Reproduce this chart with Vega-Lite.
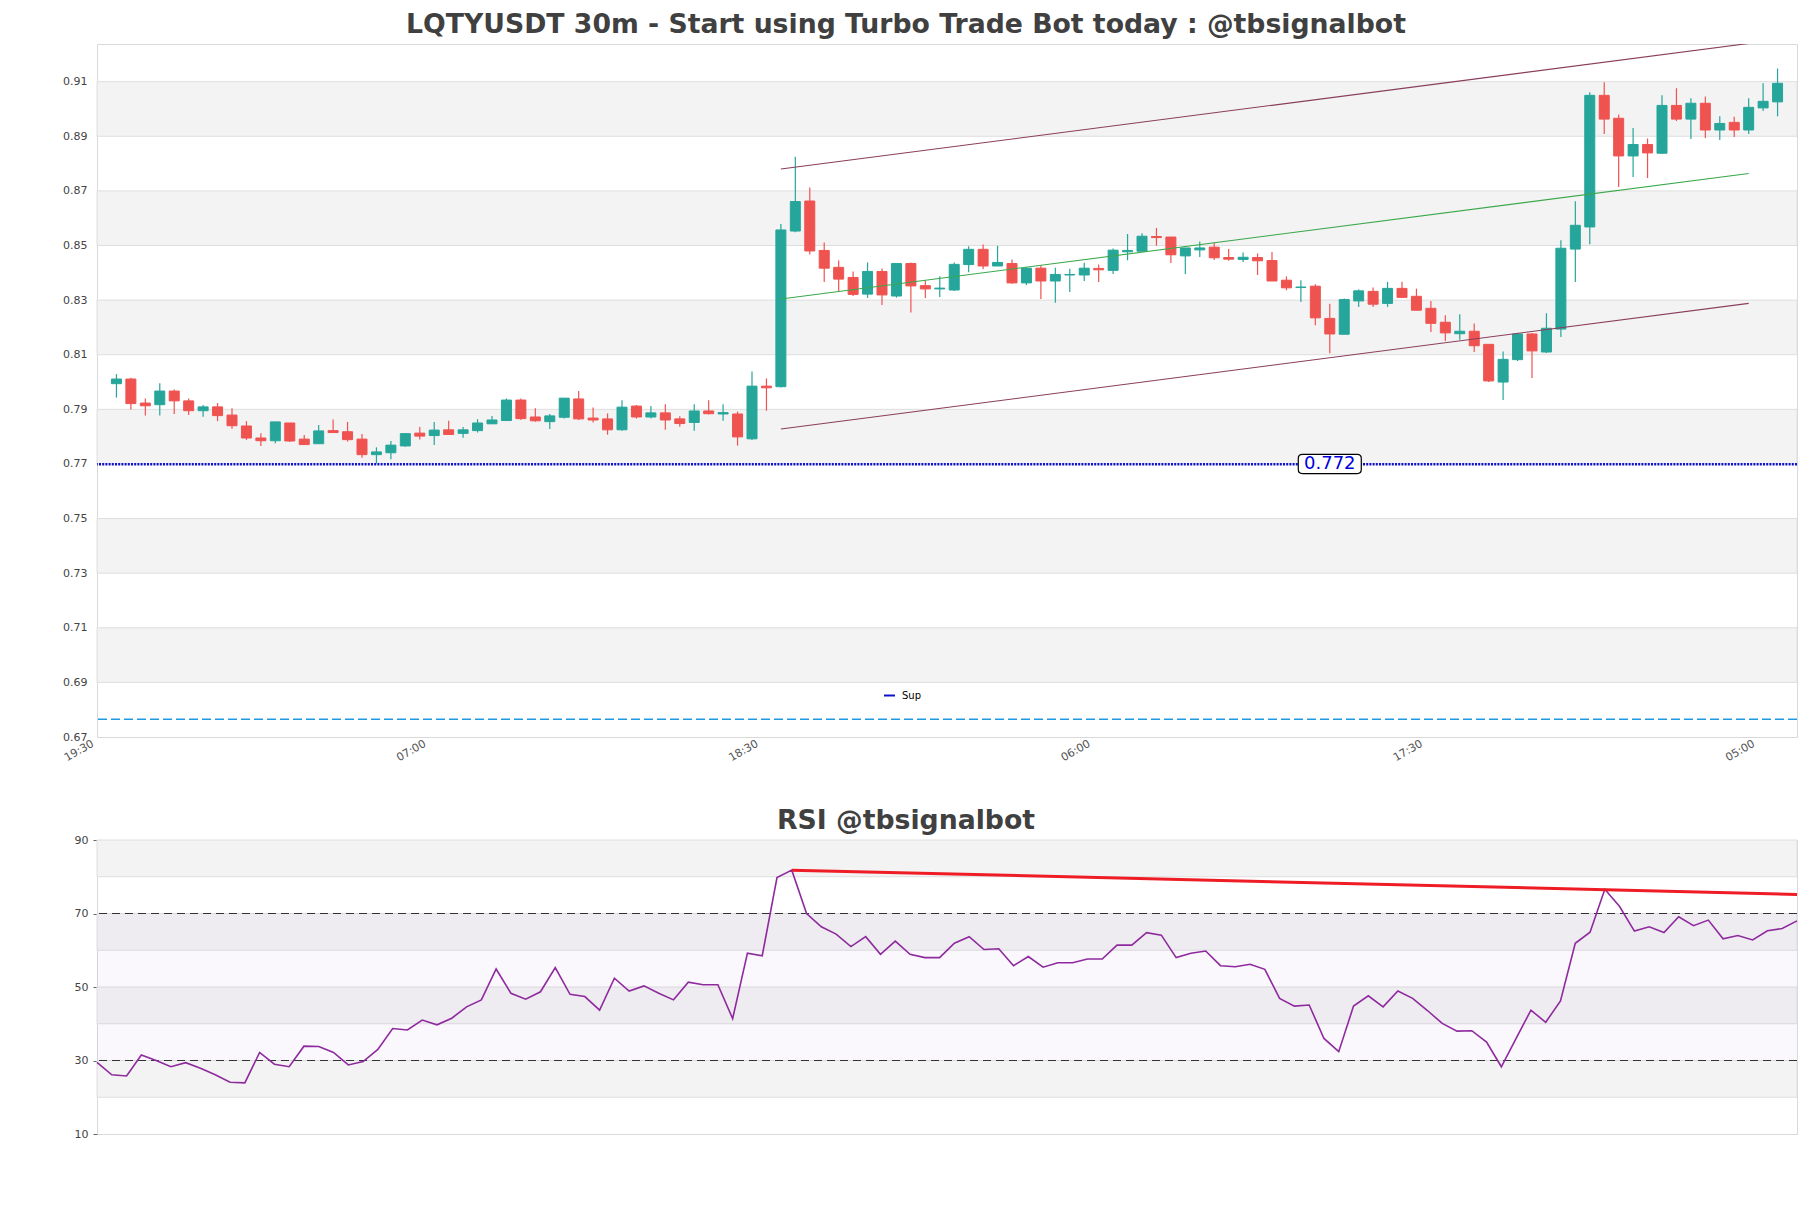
{
  "$schema": "https://vega.github.io/schema/vega-lite/v6.json",
  "background": "white",
  "padding": {"left": 61, "top": 11, "right": 10, "bottom": 10},
  "bounds": "flush",
  "spacing": 103,
  "config": {
    "font": "DejaVu Sans",
    "view": {"stroke": "#d9d9d9", "strokeWidth": 1},
    "axis": {"labelFont": "DejaVu Sans", "labelFontSize": 11, "labelColor": "#444444", "grid": false, "domain": false, "title": null, "labelOverlap": false, "labelBound": false},
    "legend": {"labelFont": "DejaVu Sans"}
  },
  "datasets": {
    "pbands": [
      {"lo": 0.69, "hi": 0.71}, {"lo": 0.73, "hi": 0.75}, {"lo": 0.77, "hi": 0.79},
      {"lo": 0.81, "hi": 0.83}, {"lo": 0.85, "hi": 0.87}, {"lo": 0.89, "hi": 0.91}
    ],
    "rbands": [
      {"lo": 20, "hi": 30}, {"lo": 40, "hi": 50}, {"lo": 60, "hi": 70}, {"lo": 80, "hi": 90}
    ],
    "rlevels": [
      {"lvl": 30}, {"lvl": 70}
    ],
    "channel": [
      {"t": "2024-01-02T19:00:00", "upper": 0.8780, "mid": 0.8304, "lower": 0.7828},
      {"t": "2024-01-04T04:30:00", "upper": 0.9240, "mid": 0.8764, "lower": 0.8288}
    ],
    "rsitrend": [
      {"t": "2024-01-02T19:30:00", "v": 81.8},
      {"t": "2024-01-04T05:30:00", "v": 75.2}
    ],
    "candles": [
      {"t":"2024-01-01T20:00:00","o":0.7994,"h":0.8029,"l":0.7943,"c":0.8011,"rsi":29.5},
      {"t":"2024-01-01T20:30:00","o":0.8011,"h":0.8016,"l":0.7899,"c":0.7921,"rsi":26.1},
      {"t":"2024-01-01T21:00:00","o":0.7923,"h":0.7940,"l":0.7877,"c":0.7913,"rsi":25.8},
      {"t":"2024-01-01T21:30:00","o":0.7917,"h":0.7996,"l":0.7877,"c":0.7967,"rsi":31.5},
      {"t":"2024-01-01T22:00:00","o":0.7967,"h":0.7973,"l":0.7883,"c":0.7931,"rsi":30.0},
      {"t":"2024-01-01T22:30:00","o":0.7931,"h":0.7940,"l":0.7879,"c":0.7895,"rsi":28.3},
      {"t":"2024-01-01T23:00:00","o":0.7895,"h":0.7916,"l":0.7873,"c":0.7909,"rsi":29.4},
      {"t":"2024-01-01T23:30:00","o":0.7909,"h":0.7923,"l":0.7857,"c":0.7877,"rsi":27.9},
      {"t":"2024-01-02T00:00:00","o":0.7879,"h":0.7904,"l":0.7829,"c":0.7840,"rsi":26.1},
      {"t":"2024-01-02T00:30:00","o":0.7839,"h":0.7857,"l":0.7788,"c":0.7795,"rsi":24.1},
      {"t":"2024-01-02T01:00:00","o":0.7795,"h":0.7812,"l":0.7766,"c":0.7785,"rsi":23.9},
      {"t":"2024-01-02T01:30:00","o":0.7785,"h":0.7854,"l":0.7776,"c":0.7854,"rsi":32.2},
      {"t":"2024-01-02T02:00:00","o":0.7850,"h":0.7850,"l":0.7780,"c":0.7784,"rsi":29.0},
      {"t":"2024-01-02T02:30:00","o":0.7791,"h":0.7806,"l":0.7771,"c":0.7771,"rsi":28.3},
      {"t":"2024-01-02T03:00:00","o":0.7774,"h":0.7843,"l":0.7774,"c":0.7821,"rsi":33.9},
      {"t":"2024-01-02T03:30:00","o":0.7822,"h":0.7863,"l":0.7815,"c":0.7815,"rsi":33.8},
      {"t":"2024-01-02T04:00:00","o":0.7818,"h":0.7854,"l":0.7782,"c":0.7789,"rsi":32.2},
      {"t":"2024-01-02T04:30:00","o":0.7791,"h":0.7810,"l":0.7723,"c":0.7734,"rsi":28.8},
      {"t":"2024-01-02T05:00:00","o":0.7734,"h":0.7761,"l":0.7702,"c":0.7744,"rsi":29.7},
      {"t":"2024-01-02T05:30:00","o":0.7741,"h":0.7784,"l":0.7717,"c":0.7769,"rsi":33.0},
      {"t":"2024-01-02T06:00:00","o":0.7766,"h":0.7812,"l":0.7763,"c":0.7811,"rsi":38.7},
      {"t":"2024-01-02T06:30:00","o":0.7813,"h":0.7835,"l":0.7790,"c":0.7802,"rsi":38.3},
      {"t":"2024-01-02T07:00:00","o":0.7804,"h":0.7854,"l":0.7769,"c":0.7824,"rsi":41.0},
      {"t":"2024-01-02T07:30:00","o":0.7825,"h":0.7858,"l":0.7808,"c":0.7808,"rsi":39.7},
      {"t":"2024-01-02T08:00:00","o":0.7812,"h":0.7835,"l":0.7796,"c":0.7825,"rsi":41.5},
      {"t":"2024-01-02T08:30:00","o":0.7822,"h":0.7864,"l":0.7815,"c":0.7850,"rsi":44.6},
      {"t":"2024-01-02T09:00:00","o":0.7847,"h":0.7876,"l":0.7847,"c":0.7861,"rsi":46.5},
      {"t":"2024-01-02T09:30:00","o":0.7859,"h":0.7940,"l":0.7859,"c":0.7934,"rsi":54.9},
      {"t":"2024-01-02T10:00:00","o":0.7934,"h":0.7940,"l":0.7861,"c":0.7866,"rsi":48.3},
      {"t":"2024-01-02T10:30:00","o":0.7872,"h":0.7904,"l":0.7855,"c":0.7858,"rsi":46.7},
      {"t":"2024-01-02T11:00:00","o":0.7855,"h":0.7883,"l":0.7828,"c":0.7876,"rsi":48.7},
      {"t":"2024-01-02T11:30:00","o":0.7871,"h":0.7941,"l":0.7866,"c":0.7941,"rsi":55.3},
      {"t":"2024-01-02T12:00:00","o":0.7938,"h":0.7967,"l":0.7861,"c":0.7865,"rsi":48.0},
      {"t":"2024-01-02T12:30:00","o":0.7868,"h":0.7907,"l":0.7852,"c":0.7861,"rsi":47.4},
      {"t":"2024-01-02T13:00:00","o":0.7865,"h":0.7885,"l":0.7807,"c":0.7825,"rsi":43.7},
      {"t":"2024-01-02T13:30:00","o":0.7825,"h":0.7933,"l":0.7822,"c":0.7908,"rsi":52.4},
      {"t":"2024-01-02T14:00:00","o":0.7912,"h":0.7916,"l":0.7866,"c":0.7872,"rsi":48.9},
      {"t":"2024-01-02T14:30:00","o":0.7872,"h":0.7912,"l":0.7866,"c":0.7887,"rsi":50.3},
      {"t":"2024-01-02T15:00:00","o":0.7887,"h":0.7919,"l":0.7825,"c":0.7861,"rsi":48.3},
      {"t":"2024-01-02T15:30:00","o":0.7865,"h":0.7875,"l":0.7836,"c":0.7848,"rsi":46.5},
      {"t":"2024-01-02T16:00:00","o":0.7852,"h":0.7919,"l":0.7822,"c":0.7894,"rsi":51.3},
      {"t":"2024-01-02T16:30:00","o":0.7894,"h":0.7933,"l":0.7881,"c":0.7884,"rsi":50.6},
      {"t":"2024-01-02T17:00:00","o":0.7883,"h":0.7919,"l":0.7858,"c":0.7888,"rsi":50.6},
      {"t":"2024-01-02T17:30:00","o":0.7883,"h":0.7892,"l":0.7767,"c":0.7799,"rsi":41.4},
      {"t":"2024-01-02T18:00:00","o":0.7792,"h":0.8039,"l":0.7788,"c":0.7985,"rsi":59.2},
      {"t":"2024-01-02T18:30:00","o":0.7985,"h":0.8013,"l":0.7895,"c":0.7979,"rsi":58.5},
      {"t":"2024-01-02T19:00:00","o":0.7983,"h":0.8579,"l":0.7980,"c":0.8557,"rsi":79.8},
      {"t":"2024-01-02T19:30:00","o":0.8553,"h":0.8825,"l":0.8549,"c":0.8661,"rsi":81.8},
      {"t":"2024-01-02T20:00:00","o":0.8663,"h":0.8712,"l":0.8467,"c":0.8480,"rsi":70.0},
      {"t":"2024-01-02T20:30:00","o":0.8482,"h":0.8511,"l":0.8366,"c":0.8417,"rsi":66.4},
      {"t":"2024-01-02T21:00:00","o":0.8420,"h":0.8445,"l":0.8330,"c":0.8377,"rsi":64.4},
      {"t":"2024-01-02T21:30:00","o":0.8383,"h":0.8405,"l":0.8315,"c":0.8321,"rsi":61.0},
      {"t":"2024-01-02T22:00:00","o":0.8322,"h":0.8438,"l":0.8308,"c":0.8405,"rsi":63.7},
      {"t":"2024-01-02T22:30:00","o":0.8405,"h":0.8416,"l":0.8282,"c":0.8319,"rsi":58.9},
      {"t":"2024-01-02T23:00:00","o":0.8315,"h":0.8434,"l":0.8309,"c":0.8434,"rsi":62.5},
      {"t":"2024-01-02T23:30:00","o":0.8434,"h":0.8438,"l":0.8255,"c":0.8352,"rsi":58.9},
      {"t":"2024-01-03T00:00:00","o":0.8353,"h":0.8372,"l":0.8308,"c":0.8341,"rsi":58.0},
      {"t":"2024-01-03T00:30:00","o":0.8341,"h":0.8387,"l":0.8311,"c":0.8344,"rsi":58.0},
      {"t":"2024-01-03T01:00:00","o":0.8337,"h":0.8438,"l":0.8333,"c":0.8431,"rsi":61.9},
      {"t":"2024-01-03T01:30:00","o":0.8430,"h":0.8497,"l":0.8402,"c":0.8486,"rsi":63.7},
      {"t":"2024-01-03T02:00:00","o":0.8486,"h":0.8504,"l":0.8414,"c":0.8425,"rsi":60.2},
      {"t":"2024-01-03T02:30:00","o":0.8425,"h":0.8499,"l":0.8425,"c":0.8438,"rsi":60.4},
      {"t":"2024-01-03T03:00:00","o":0.8434,"h":0.8449,"l":0.8360,"c":0.8363,"rsi":55.8},
      {"t":"2024-01-03T03:30:00","o":0.8363,"h":0.8421,"l":0.8355,"c":0.8417,"rsi":58.3},
      {"t":"2024-01-03T04:00:00","o":0.8417,"h":0.8427,"l":0.8304,"c":0.8370,"rsi":55.4},
      {"t":"2024-01-03T04:30:00","o":0.8370,"h":0.8419,"l":0.8290,"c":0.8394,"rsi":56.6},
      {"t":"2024-01-03T05:00:00","o":0.8392,"h":0.8415,"l":0.8330,"c":0.8394,"rsi":56.6},
      {"t":"2024-01-03T05:30:00","o":0.8392,"h":0.8437,"l":0.8370,"c":0.8417,"rsi":57.6},
      {"t":"2024-01-03T06:00:00","o":0.8416,"h":0.8430,"l":0.8366,"c":0.8411,"rsi":57.6},
      {"t":"2024-01-03T06:30:00","o":0.8409,"h":0.8489,"l":0.8396,"c":0.8483,"rsi":61.4},
      {"t":"2024-01-03T07:00:00","o":0.8477,"h":0.8542,"l":0.8446,"c":0.8482,"rsi":61.4},
      {"t":"2024-01-03T07:30:00","o":0.8479,"h":0.8545,"l":0.8479,"c":0.8534,"rsi":64.8},
      {"t":"2024-01-03T08:00:00","o":0.8533,"h":0.8564,"l":0.8499,"c":0.8529,"rsi":64.1},
      {"t":"2024-01-03T08:30:00","o":0.8531,"h":0.8531,"l":0.8436,"c":0.8466,"rsi":58.0},
      {"t":"2024-01-03T09:00:00","o":0.8462,"h":0.8491,"l":0.8396,"c":0.8491,"rsi":59.2},
      {"t":"2024-01-03T09:30:00","o":0.8484,"h":0.8515,"l":0.8458,"c":0.8491,"rsi":59.8},
      {"t":"2024-01-03T10:00:00","o":0.8494,"h":0.8510,"l":0.8447,"c":0.8455,"rsi":55.8},
      {"t":"2024-01-03T10:30:00","o":0.8456,"h":0.8487,"l":0.8444,"c":0.8450,"rsi":55.5},
      {"t":"2024-01-03T11:00:00","o":0.8449,"h":0.8474,"l":0.8440,"c":0.8457,"rsi":56.2},
      {"t":"2024-01-03T11:30:00","o":0.8456,"h":0.8471,"l":0.8392,"c":0.8444,"rsi":54.8},
      {"t":"2024-01-03T12:00:00","o":0.8445,"h":0.8476,"l":0.8370,"c":0.8370,"rsi":46.9},
      {"t":"2024-01-03T12:30:00","o":0.8373,"h":0.8387,"l":0.8336,"c":0.8345,"rsi":44.8},
      {"t":"2024-01-03T13:00:00","o":0.8346,"h":0.8373,"l":0.8293,"c":0.8348,"rsi":45.1},
      {"t":"2024-01-03T13:30:00","o":0.8351,"h":0.8358,"l":0.8208,"c":0.8235,"rsi":36.0},
      {"t":"2024-01-03T14:00:00","o":0.8233,"h":0.8287,"l":0.8105,"c":0.8176,"rsi":32.4},
      {"t":"2024-01-03T14:30:00","o":0.8175,"h":0.8306,"l":0.8175,"c":0.8302,"rsi":44.8},
      {"t":"2024-01-03T15:00:00","o":0.8297,"h":0.8339,"l":0.8275,"c":0.8334,"rsi":47.6},
      {"t":"2024-01-03T15:30:00","o":0.8332,"h":0.8346,"l":0.8275,"c":0.8285,"rsi":44.6},
      {"t":"2024-01-03T16:00:00","o":0.8288,"h":0.8367,"l":0.8275,"c":0.8343,"rsi":48.9},
      {"t":"2024-01-03T16:30:00","o":0.8343,"h":0.8367,"l":0.8308,"c":0.8310,"rsi":46.9},
      {"t":"2024-01-03T17:00:00","o":0.8314,"h":0.8342,"l":0.8263,"c":0.8263,"rsi":43.6},
      {"t":"2024-01-03T17:30:00","o":0.8270,"h":0.8297,"l":0.8183,"c":0.8215,"rsi":40.1},
      {"t":"2024-01-03T18:00:00","o":0.8219,"h":0.8245,"l":0.8150,"c":0.8180,"rsi":38.0},
      {"t":"2024-01-03T18:30:00","o":0.8177,"h":0.8248,"l":0.8155,"c":0.8186,"rsi":38.1},
      {"t":"2024-01-03T19:00:00","o":0.8186,"h":0.8214,"l":0.8110,"c":0.8133,"rsi":35.0},
      {"t":"2024-01-03T19:30:00","o":0.8138,"h":0.8138,"l":0.8000,"c":0.8004,"rsi":28.3},
      {"t":"2024-01-03T20:00:00","o":0.8000,"h":0.8112,"l":0.7934,"c":0.8083,"rsi":36.0},
      {"t":"2024-01-03T20:30:00","o":0.8082,"h":0.8180,"l":0.8077,"c":0.8176,"rsi":43.7},
      {"t":"2024-01-03T21:00:00","o":0.8176,"h":0.8180,"l":0.8015,"c":0.8114,"rsi":40.4},
      {"t":"2024-01-03T21:30:00","o":0.8110,"h":0.8252,"l":0.8106,"c":0.8197,"rsi":46.2},
      {"t":"2024-01-03T22:00:00","o":0.8194,"h":0.8519,"l":0.8165,"c":0.8490,"rsi":61.9},
      {"t":"2024-01-03T22:30:00","o":0.8487,"h":0.8662,"l":0.8366,"c":0.8574,"rsi":64.9},
      {"t":"2024-01-03T23:00:00","o":0.8568,"h":0.9061,"l":0.8505,"c":0.9050,"rsi":76.6},
      {"t":"2024-01-03T23:30:00","o":0.9050,"h":0.9098,"l":0.8908,"c":0.8963,"rsi":71.9},
      {"t":"2024-01-04T00:00:00","o":0.8966,"h":0.8980,"l":0.8714,"c":0.8828,"rsi":65.2},
      {"t":"2024-01-04T00:30:00","o":0.8828,"h":0.8930,"l":0.8751,"c":0.8870,"rsi":66.4},
      {"t":"2024-01-04T01:00:00","o":0.8870,"h":0.8892,"l":0.8747,"c":0.8839,"rsi":64.8},
      {"t":"2024-01-04T01:30:00","o":0.8838,"h":0.9050,"l":0.8835,"c":0.9013,"rsi":69.1},
      {"t":"2024-01-04T02:00:00","o":0.9013,"h":0.9076,"l":0.8956,"c":0.8963,"rsi":66.7},
      {"t":"2024-01-04T02:30:00","o":0.8963,"h":0.9039,"l":0.8890,"c":0.9021,"rsi":68.2},
      {"t":"2024-01-04T03:00:00","o":0.9021,"h":0.9046,"l":0.8894,"c":0.8923,"rsi":63.1},
      {"t":"2024-01-04T03:30:00","o":0.8923,"h":0.8973,"l":0.8886,"c":0.8947,"rsi":64.0},
      {"t":"2024-01-04T04:00:00","o":0.8951,"h":0.8972,"l":0.8897,"c":0.8923,"rsi":62.8},
      {"t":"2024-01-04T04:30:00","o":0.8923,"h":0.9039,"l":0.8908,"c":0.9006,"rsi":65.3},
      {"t":"2024-01-04T05:00:00","o":0.9004,"h":0.9094,"l":0.8993,"c":0.9028,"rsi":65.9},
      {"t":"2024-01-04T05:30:00","o":0.9026,"h":0.9148,"l":0.8973,"c":0.9094,"rsi":68.0}
    ]
  },
  "vconcat": [
    {
      "width": 1700,
      "height": 693,
      "title": {"text": "LQTYUSDT 30m - Start using Turbo Trade Bot today : @tbsignalbot", "font": "DejaVu Sans", "fontSize": 26.7, "fontWeight": "bold", "color": "#404040", "anchor": "middle", "dx": -41, "baseline": "alphabetic", "offset": -16},
      "layer": [
        {
          "data": {"name": "pbands"},
          "mark": {"type": "rect", "fill": "#f3f3f3", "stroke": "#dedede", "strokeWidth": 1},
          "encoding": {
            "y": {"field": "lo", "type": "quantitative", "scale": {"domain": [0.67, 0.9238], "zero": false, "nice": false},
                  "axis": {"values": [0.67, 0.69, 0.71, 0.73, 0.75, 0.77, 0.79, 0.81, 0.83, 0.85, 0.87, 0.89, 0.91], "format": ".2f", "ticks": true, "tickSize": 5, "tickOpacity": 0, "labelPadding": 5, "labelOverlap": false}},
            "y2": {"field": "hi"}
          }
        },
        {
          "data": {"name": "candles"},
          "mark": {"type": "rule", "strokeWidth": 1.2, "clip": true},
          "encoding": {
            "x": {"field": "t", "type": "temporal",
                  "scale": {"domain": [{"year": 2024, "month": 1, "date": 1, "hours": 19, "minutes": 30}, {"year": 2024, "month": 1, "date": 4, "hours": 6, "minutes": 0}]},
                  "axis": {"values": [
                    {"year": 2024, "month": 1, "date": 1, "hours": 19, "minutes": 30},
                    {"year": 2024, "month": 1, "date": 2, "hours": 7, "minutes": 0},
                    {"year": 2024, "month": 1, "date": 2, "hours": 18, "minutes": 30},
                    {"year": 2024, "month": 1, "date": 3, "hours": 6, "minutes": 0},
                    {"year": 2024, "month": 1, "date": 3, "hours": 17, "minutes": 30},
                    {"year": 2024, "month": 1, "date": 4, "hours": 5, "minutes": 0}],
                    "format": "%H:%M", "labelAngle": -30, "labelAlign": "right", "labelBaseline": "bottom", "labelFlush": false, "labelOverlap": false, "ticks": false, "labelPadding": 10, "labelOffset": -7, "labelColor": "#555555"}},
            "y": {"field": "l", "type": "quantitative"},
            "y2": {"field": "h"},
            "color": {"condition": {"test": "datum.c >= datum.o", "value": "#26a69a"}, "value": "#ef5350"}
          }
        },
        {
          "data": {"name": "candles"},
          "mark": {"type": "bar", "size": 10, "strokeWidth": 1, "clip": true},
          "encoding": {
            "x": {"field": "t", "type": "temporal"},
            "y": {"field": "o", "type": "quantitative"},
            "y2": {"field": "c"},
            "fill": {"condition": {"test": "datum.c >= datum.o", "value": "#26a69a"}, "value": "#ef5350"},
            "stroke": {"condition": {"test": "datum.c >= datum.o", "value": "#26a69a"}, "value": "#ef5350"}
          }
        },
        {
          "data": {"name": "channel"},
          "mark": {"type": "line", "color": "#8a3d5c", "strokeWidth": 1.1, "clip": true},
          "encoding": {"x": {"field": "t", "type": "temporal"}, "y": {"field": "upper", "type": "quantitative"}}
        },
        {
          "data": {"name": "channel"},
          "mark": {"type": "line", "color": "#3aa84a", "strokeWidth": 1.1, "clip": true},
          "encoding": {"x": {"field": "t", "type": "temporal"}, "y": {"field": "mid", "type": "quantitative"}}
        },
        {
          "data": {"name": "channel"},
          "mark": {"type": "line", "color": "#8a3d5c", "strokeWidth": 1.1, "clip": true},
          "encoding": {"x": {"field": "t", "type": "temporal"}, "y": {"field": "lower", "type": "quantitative"}}
        },
        {
          "data": {"values": [{}]},
          "mark": {"type": "rule", "strokeWidth": 1.6, "strokeDash": [9, 4], "color": "#1e9be0"},
          "encoding": {"y": {"datum": 0.6765}}
        },
        {
          "data": {"values": [{}]},
          "mark": {"type": "rule", "strokeWidth": 2.5, "strokeDash": [2, 1.2]},
          "encoding": {
            "y": {"datum": 0.7699},
            "color": {"datum": "Sup", "type": "nominal", "scale": {"domain": ["Sup"], "range": ["#1010cc"]},
                      "legend": {"orient": "none", "legendX": 786, "legendY": 645, "title": null, "symbolType": "stroke", "symbolStrokeWidth": 2, "symbolSize": 120, "symbolDash": [], "labelFontSize": 10, "labelColor": "#000000", "padding": 0, "labelOffset": 6}}
          }
        },
        {
          "data": {"values": [{}]},
          "mark": {"type": "point", "shape": "M -0.87 -0.307 L 0.87 -0.307 Q 1 -0.307 1 -0.18 L 1 0.18 Q 1 0.307 0.87 0.307 L -0.87 0.307 Q -1 0.307 -1 0.18 L -1 -0.18 Q -1 -0.307 -0.87 -0.307 Z", "size": 3969, "filled": true, "fill": "white", "stroke": "black", "strokeWidth": 1.2, "opacity": 1},
          "encoding": {"x": {"datum": {"year": 2024, "month": 1, "date": 3, "hours": 14, "minutes": 0}, "type": "temporal"}, "y": {"datum": 0.7700}}
        },
        {
          "data": {"values": [{}]},
          "mark": {"type": "text", "text": "0.772", "fontSize": 18, "font": "DejaVu Sans", "color": "#0000dd", "align": "center", "baseline": "middle"},
          "encoding": {"x": {"datum": {"year": 2024, "month": 1, "date": 3, "hours": 14, "minutes": 0}, "type": "temporal"}, "y": {"datum": 0.7700}}
        }
      ]
    },
    {
      "width": 1700,
      "height": 294,
      "title": {"text": "RSI @tbsignalbot", "font": "DejaVu Sans", "fontSize": 26.7, "fontWeight": "bold", "color": "#404040", "anchor": "middle", "dx": -41, "baseline": "alphabetic", "offset": -22},
      "layer": [
        {
          "data": {"name": "rlevels"},
          "mark": {"type": "rule", "opacity": 0},
          "encoding": {
            "y": {"field": "lvl", "type": "quantitative", "scale": {"domain": [10, 90], "zero": false, "nice": false},
                  "axis": {"values": [10, 20, 30, 40, 50, 60, 70, 80, 90], "format": "d", "labelOverlap": false, "labelSeparation": -40, "labelBound": false, "labelFontSize": 11, "labelLineHeight": 11, "ticks": true, "tickSize": 4, "tickColor": "#666666", "labelPadding": 5}}
          }
        },
        {
          "data": {"name": "rbands"},
          "mark": {"type": "rect", "fill": "#f3f3f3", "stroke": "#dedede", "strokeWidth": 1},
          "encoding": {
            "y": {"field": "lo", "type": "quantitative"},
            "y2": {"field": "hi"}
          }
        },
        {
          "data": {"values": [{}]},
          "mark": {"type": "rect", "fill": "#a07cc0", "opacity": 0.05},
          "encoding": {"y": {"datum": 30}, "y2": {"datum": 70}}
        },
        {
          "data": {"name": "rlevels"},
          "mark": {"type": "rule", "strokeWidth": 1.2, "strokeDash": [8, 5], "color": "#333333"},
          "encoding": {"y": {"field": "lvl", "type": "quantitative"}}
        },
        {
          "data": {"name": "candles"},
          "mark": {"type": "line", "color": "#8e2a9e", "strokeWidth": 1.6},
          "encoding": {
            "x": {"field": "t", "type": "temporal", "axis": null,
                  "scale": {"domain": [{"year": 2024, "month": 1, "date": 1, "hours": 20, "minutes": 0}, {"year": 2024, "month": 1, "date": 4, "hours": 5, "minutes": 30}]}},
            "y": {"field": "rsi", "type": "quantitative"}
          }
        },
        {
          "data": {"name": "rsitrend"},
          "mark": {"type": "line", "color": "#ee1c25", "strokeWidth": 3},
          "encoding": {"x": {"field": "t", "type": "temporal"}, "y": {"field": "v", "type": "quantitative"}}
        }
      ]
    }
  ]
}
